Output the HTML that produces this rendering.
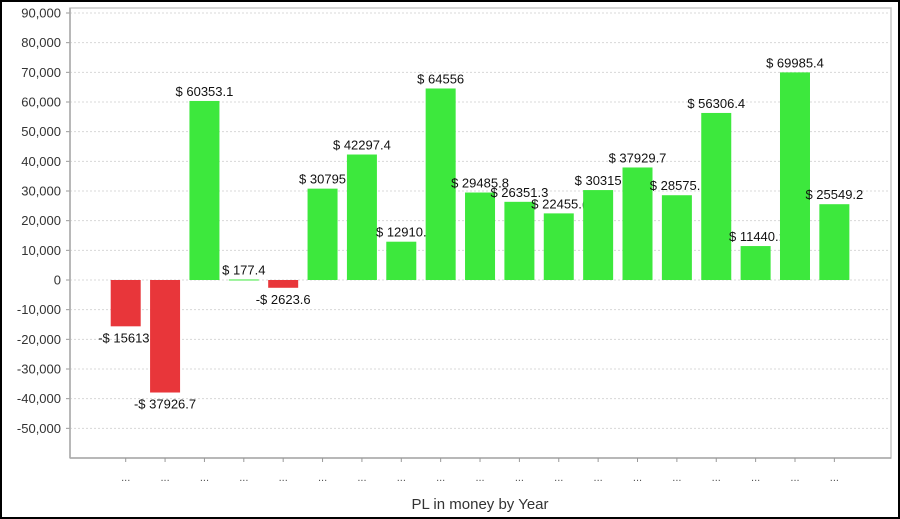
<!DOCTYPE html>
<html><head><meta charset="utf-8"><style>
html,body{margin:0;padding:0;background:#fff}
svg{display:block;font-family:"Liberation Sans",Arial,sans-serif}
</style></head><body>
<svg id="chart" width="900" height="519">
<rect x="1" y="1" width="898" height="517" fill="#fff" stroke="#000" stroke-width="2"/>
<g id="grid"></g>
<g id="bars"></g>
<g id="axes"></g>
<text x="480" y="509" font-size="15" text-anchor="middle" fill="#333">PL in money by Year</text>
</svg>
<script>
const categories = ["...","...","...","...","...","...","...","...","...","...","...","...","...","...","...","...","...","...","..."];
const values = [-15613.5, -37926.7, 60353.1, 177.4, -2623.6, 30795, 42297.4, 12910.5, 64556, 29485.8, 26351.3, 22455.6, 30315, 37929.7, 28575.3, 56306.4, 11440.3, 69985.4, 25549.2];
const labels = ["-$ 15613.", "-$ 37926.7", "$ 60353.1", "$ 177.4", "-$ 2623.6", "$ 30795", "$ 42297.4", "$ 12910.", "$ 64556", "$ 29485.8", "$ 26351.3", "$ 22455.(", "$ 30315", "$ 37929.7", "$ 28575.:", "$ 56306.4", "$ 11440.:", "$ 69985.4", "$ 25549.2"];
const yTicks = [90000,80000,70000,60000,50000,40000,30000,20000,10000,0,-10000,-20000,-30000,-40000,-50000];
const yTickLabels = ["90,000","80,000","70,000","60,000","50,000","40,000","30,000","20,000","10,000","0","-10,000","-20,000","-30,000","-40,000","-50,000"];

const NS="http://www.w3.org/2000/svg";
const L=70,R=891,T=8,B=458;
const y0=280, pxPer=(280-13)/90000;
function y(v){return y0 - v*pxPer;}
const firstC=125.7, step=39.37, bw=30;
function x(i){return firstC + i*step;}
function mk(tag,attrs,parent){const e=document.createElementNS(NS,tag);for(const k in attrs)e.setAttribute(k,attrs[k]);parent.appendChild(e);return e;}
const grid=document.getElementById('grid'),bars=document.getElementById('bars'),axes=document.getElementById('axes');

mk('rect',{x:L,y:T,width:R-L,height:B-T,fill:'#fff',stroke:'#c8c8c8','stroke-width':1.5},grid);
yTicks.forEach((t,i)=>{
  const g=mk('line',{x1:L,x2:R,y1:y(t),y2:y(t),stroke:'#d8d8d8','stroke-dasharray':'2,2'},grid);
  
  
  mk('line',{x1:L-4,x2:L,y1:y(t),y2:y(t),stroke:'#999'},axes);
  const tx=mk('text',{x:61,y:y(t)+4.5,'font-size':13,'text-anchor':'end',fill:'#333'},axes);
  tx.textContent=yTickLabels[i];
  
  
});
mk('line',{x1:L,x2:L,y1:T,y2:B,stroke:'#aaa','stroke-width':1.5},axes);
mk('line',{x1:L,x2:R,y1:B,y2:B,stroke:'#aaa','stroke-width':1.5},axes);

values.forEach((v,i)=>{
  const cx=x(i), top=Math.min(y(v),y0), h=Math.max(Math.abs(y(v)-y0),1);
  const r=mk('rect',{x:cx-bw/2,y:top,width:bw,height:h,fill:v>=0?'#3de83d':'#e8363a'},bars);
  
  
  const ly = v>=0 ? y(v)-5 : y(v)+16;
  const t=mk('text',{x:cx,y:ly,'font-size':13,'text-anchor':'middle',fill:'#111'},bars);
  t.textContent=labels[i];
  
  
  mk('line',{x1:cx,x2:cx,y1:B,y2:B+4,stroke:'#999'},axes);
  const c=mk('text',{x:cx,y:481,'font-size':11,'text-anchor':'middle',fill:'#555'},axes);
  c.textContent=categories[i];
  
  
});
</script>
</body></html>
